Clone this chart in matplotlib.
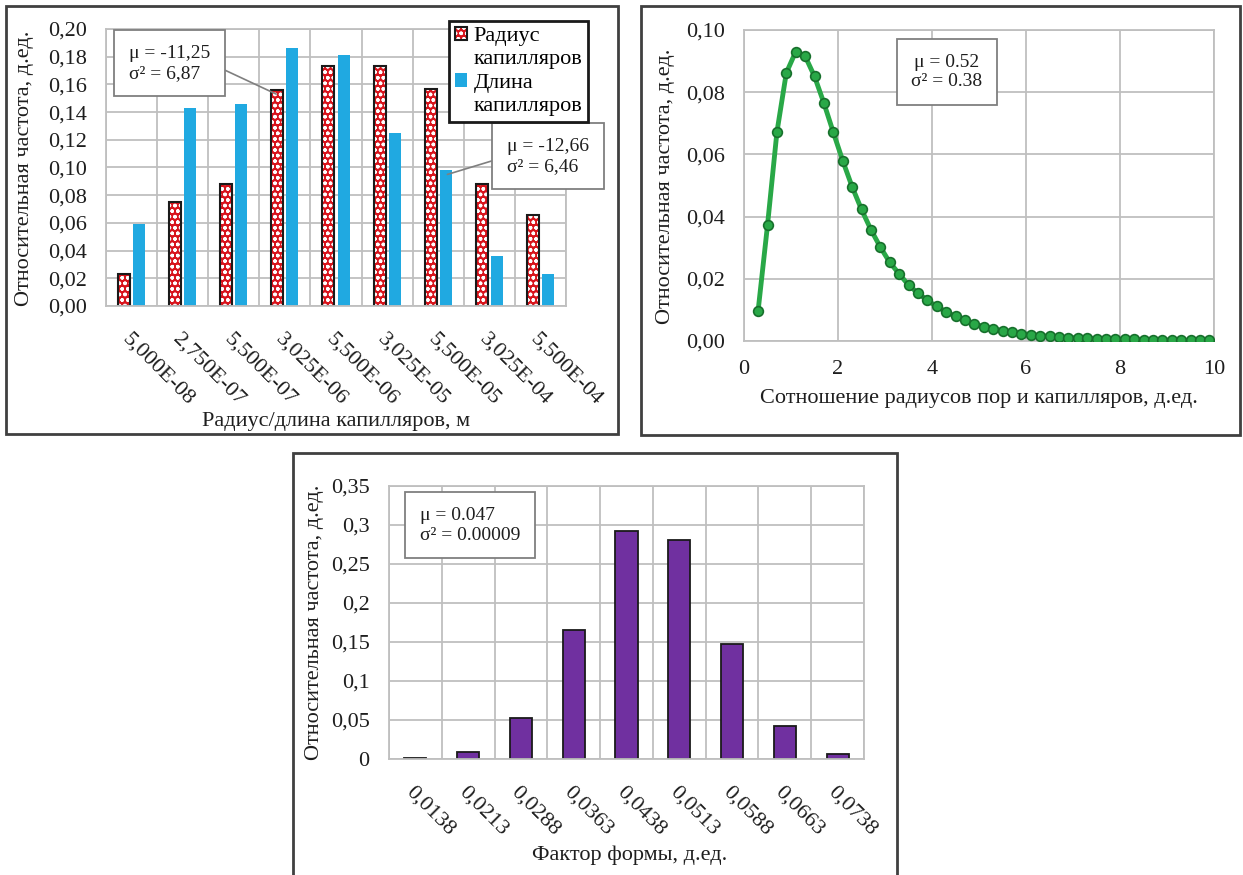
import numpy as np
import matplotlib
matplotlib.use("Agg")
from matplotlib import pyplot as plt
from matplotlib.patches import Rectangle, Patch

plt.rcParams['font.family'] = ['Liberation Serif', 'DejaVu Serif']
plt.rcParams['hatch.linewidth'] = 1.0

W, H = 1243, 875
#--------------------------------------------------------------------------
# top left: radius / length of capillaries
size_labels = ['5,000E-08', '2,750E-07', '5,500E-07', '3,025E-06', '5,500E-06',
               '3,025E-05', '5,500E-05', '3,025E-04', '5,500E-04']
radius_freq = [0.023, 0.075, 0.088, 0.156, 0.173, 0.173, 0.157, 0.088, 0.066]
length_freq = [0.059, 0.143, 0.146, 0.186, 0.181, 0.125, 0.098, 0.036, 0.023]
size_yticks = ['0,00', '0,02', '0,04', '0,06', '0,08', '0,10',
               '0,12', '0,14', '0,16', '0,18', '0,20']

# top right: pore / capillary radius ratio
ratio_x = [0.3, 0.5, 0.7, 0.9, 1.1, 1.3, 1.5, 1.7, 1.9, 2.1, 2.3, 2.5, 2.7,
           2.9, 3.1, 3.3, 3.5, 3.7, 3.9, 4.1, 4.3, 4.5, 4.7, 4.9, 5.1, 5.3,
           5.5, 5.7, 5.9, 6.1, 6.3, 6.5, 6.7, 6.9, 7.1, 7.3, 7.5, 7.7, 7.9,
           8.1, 8.3, 8.5, 8.7, 8.9, 9.1, 9.3, 9.5, 9.7, 9.9]
ratio_freq = [0.0097, 0.0372, 0.0671, 0.0862, 0.0930, 0.0916, 0.0851, 0.0765,
              0.0671, 0.0580, 0.0496, 0.0423, 0.0358, 0.0302, 0.0253, 0.0216,
              0.0180, 0.0154, 0.0131, 0.0111, 0.0094, 0.0079, 0.0066, 0.0055,
              0.0046, 0.0040, 0.0033, 0.0028, 0.0024, 0.0020, 0.0017, 0.0015,
              0.0013, 0.0011, 0.0010, 0.0009, 0.0008, 0.0007, 0.0006, 0.0005,
              0.0005, 0.0004, 0.0004, 0.0003, 0.0003, 0.0002, 0.0002, 0.0002,
              0.0002]
ratio_yticks = ['0,00', '0,02', '0,04', '0,06', '0,08', '0,10']

# bottom: shape factor
shape_labels = ['0,0138', '0,0213', '0,0288', '0,0363', '0,0438',
                '0,0513', '0,0588', '0,0663', '0,0738']
shape_freq = [0.001, 0.009, 0.052, 0.166, 0.292, 0.281, 0.148, 0.042, 0.006]
shape_yticks = ['0', '0,05', '0,1', '0,15', '0,2', '0,25', '0,3', '0,35']
#--------------------------------------------------------------------------
GRID = '#bfbfbf'
TXT = '#1e1e1e'
FS = 16


def box(l, t, r, b):
    """axes rect from pixel edges (top-left origin)"""
    return [l / W, 1 - b / H, (r - l) / W, (b - t) / H]


def style(ax):
    ax.tick_params(length=0, labelsize=FS, colors=TXT, pad=14)
    ax.tick_params(which='minor', length=0)
    for s in ax.spines.values():
        s.set_color(GRID)
        s.set_linewidth(1.3)
    ax.set_axisbelow(True)


def cat_axis(ax, labels):
    n = len(labels)
    ax.set_xlim(-0.5, n - 0.5)
    ax.set_xticks(range(n))
    ax.set_xticks(np.arange(n + 1) - 0.5, minor=True)
    ax.set_xticklabels(labels, rotation=-45, ha='left', va='top',
                       rotation_mode='anchor')
    ax.tick_params(axis='x', pad=17)
    ax.grid(True, which='minor', axis='x', color=GRID, lw=1.3)
    ax.grid(True, which='major', axis='y', color=GRID, lw=1.3)


def ftext(x, y, s, **kw):
    fig.text(x / W, 1 - y / H, s, fontsize=FS, color=TXT, **kw)


fig = plt.figure(figsize=(W / 100, H / 100), dpi=100)

# panel frames
for (l, t, r, b) in [(6, 6, 618, 434), (641, 6, 1240, 435), (293, 453, 897, 885)]:
    fig.patches.append(Rectangle((l / W, 1 - b / H), (r - l) / W, (b - t) / H,
                                 transform=fig.transFigure, fill=False,
                                 ec='#404040', lw=2))

# ---- top left
ax1 = fig.add_axes(box(106, 29, 566, 306))
style(ax1)
x = np.arange(len(size_labels))
b_fill = ax1.bar(x - 0.147, radius_freq, width=0.235, color='#d8141c',
                 edgecolor='white', hatch='ooo', lw=0)
b_edge = ax1.bar(x - 0.147, radius_freq, width=0.235, fill=False,
                 edgecolor='#1a1a1a', lw=1.5)
b_len = ax1.bar(x + 0.147, length_freq, width=0.235, color='#20a9e1', lw=0)
cat_axis(ax1, size_labels)
ax1.set_ylim(0, 0.20)
ax1.set_yticks(np.linspace(0, 0.20, 11))
ax1.set_yticklabels(size_yticks)

blank = Patch(facecolor='none', edgecolor='none')
leg = ax1.legend([(b_fill, b_edge), blank, b_len, blank],
                 ['Радиус', 'капилляров', 'Длина', 'капилляров'],
                 loc='upper left', bbox_to_anchor=(449 / W, 1 - 21 / H),
                 bbox_transform=fig.transFigure, borderaxespad=0,
                 fontsize=FS, fancybox=False, framealpha=1,
                 handlelength=0.55, handleheight=0.55, handletextpad=0.3,
                 borderpad=0.25, labelspacing=0.17)
leg.get_frame().set_edgecolor('#1a1a1a')
leg.get_frame().set_linewidth(2)

ax1.annotate('μ = -11,25\nσ² = 6,87', xy=(2.83, 0.153),
             xytext=(129, H - 45), textcoords='figure pixels',
             ha='left', va='top', fontsize=14, color=TXT,
             bbox=dict(boxstyle='square,pad=0.75', fc='white', ec='#7f7f7f', lw=1.3),
             arrowprops=dict(arrowstyle='-', color='#7f7f7f', lw=1.2,
                             relpos=(1, 0.5), shrinkA=0, shrinkB=0))
ax1.annotate('μ = -12,66\nσ² = 6,46', xy=(6.18, 0.095),
             xytext=(507, H - 138), textcoords='figure pixels',
             ha='left', va='top', fontsize=14, color=TXT,
             bbox=dict(boxstyle='square,pad=0.75', fc='white', ec='#7f7f7f', lw=1.3),
             arrowprops=dict(arrowstyle='-', color='#7f7f7f', lw=1.2,
                             relpos=(0, 0.5), shrinkA=0, shrinkB=0))

ftext(336, 422, 'Радиус/длина капилляров, м', ha='center', va='center')
ftext(25, 168, 'Относительная частота, д.ед.', ha='center', va='center', rotation=90)

# ---- top right
ax2 = fig.add_axes(box(744, 30, 1214, 341))
style(ax2)
ax2.plot(ratio_x, ratio_freq, color='#29a847', lw=3.5, marker='o', ms=7,
         mfc='#29a847', mec='#17702c', mew=1.2, zorder=3)
ax2.set_xlim(0, 10)
ax2.set_ylim(0, 0.10)
ax2.set_xticks(range(0, 11, 2))
ax2.set_yticks(np.linspace(0, 0.10, 6))
ax2.set_yticklabels(ratio_yticks)
ax2.grid(True, color=GRID, lw=1.3)
ax2.text(947, H - 72, 'μ = 0.52\nσ² = 0.38', transform=None, ha='center',
         va='center', multialignment='center', fontsize=14, color=TXT,
         bbox=dict(boxstyle='square,pad=0.75', fc='white', ec='#7f7f7f', lw=1.3))
ftext(979, 399, 'Сотношение радиусов пор и капилляров, д.ед.', ha='center', va='center')
ftext(665, 186, 'Относительная частота, д.ед.', ha='center', va='center', rotation=90)

# ---- bottom
ax3 = fig.add_axes(box(389, 486, 864, 759))
style(ax3)
ax3.bar(np.arange(len(shape_labels)), shape_freq, width=0.42, color='#7030a0',
        edgecolor='#1a1a1a', lw=1.3)
cat_axis(ax3, shape_labels)
ax3.set_ylim(0, 0.35)
ax3.set_yticks(np.linspace(0, 0.35, 8))
ax3.set_yticklabels(shape_yticks)
ax3.text(420, H - 507, 'μ = 0.047\nσ² = 0.00009', transform=None, ha='left',
         va='top', fontsize=14, color=TXT,
         bbox=dict(boxstyle='square,pad=0.75', fc='white', ec='#7f7f7f', lw=1.3))
ftext(630, 855, 'Фактор формы, д.ед.', ha='center', va='center')
ftext(315, 622, 'Относительная частота, д.ед.', ha='center', va='center', rotation=90)

fig.savefig('out.png', dpi=100)
